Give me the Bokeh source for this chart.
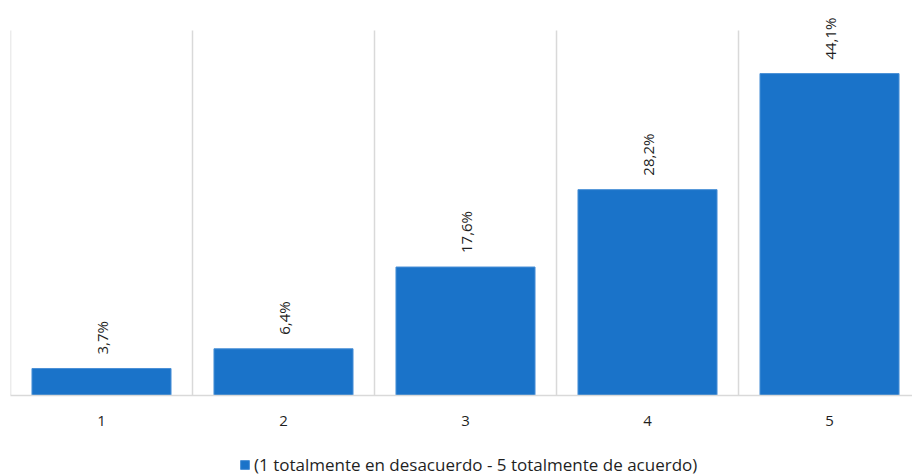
from bokeh.plotting import figure
from bokeh.models import ColumnDataSource, FixedTicker, Legend, LegendItem, Range1d
from bokeh.layouts import column
from bokeh.core.properties import value
from bokeh.embed import file_html
from bokeh.resources import INLINE
import math

categories = [1, 2, 3, 4, 5]
values = [3.7, 6.4, 17.6, 28.2, 44.1]
labels = ["3,7%", "6,4%", "17,6%", "28,2%", "44,1%"]
tick_labels = ["1", "2", "3", "4", "5"]
series_name = "(1 totalmente en desacuerdo - 5 totalmente de acuerdo)"
y_max = 50

FONT = "Open Sans"
BLUE = "#1a73c9"
GRID = "#d9d9d9"
TEXT = "#1f1f1f"

src = ColumnDataSource(dict(x=categories, top=values, label=labels))

# frame: 395 px tall, top 30 px above y_max for the rotated value labels
p = figure(width=912, height=446, output_backend="svg", toolbar_location=None,
           x_range=Range1d(0.5, 5.456), y_range=Range1d(0, y_max * 395 / 365),
           min_border_left=10, min_border_right=0, min_border_top=0,
           min_border_bottom=51)
p.outline_line_color = None
p.background_fill_color = "white"
p.border_fill_color = "white"

# category separators (vertical gridlines) up to the value-axis maximum
sep_x = [c - 0.5 for c in categories] + [categories[-1] + 0.5]
p.segment(x0=sep_x, x1=sep_x, y0=[0] * len(sep_x), y1=[y_max] * len(sep_x),
          line_color=GRID, line_width=1.5)

r = p.vbar(x="x", top="top", width=0.764, source=src, fill_color=BLUE,
           line_color="#4a90d6", line_width=1)

p.text(x="x", y="top", text="label", source=src, angle=math.pi / 2,
       text_align="left", text_baseline="middle", y_offset=-14,
       text_font=value(FONT), text_font_size="15px", text_color=TEXT)

p.yaxis.visible = False
p.ygrid.visible = False
p.xgrid.visible = False

p.xaxis.ticker = FixedTicker(ticks=categories)
p.xaxis.major_label_overrides = {c: t for c, t in zip(categories, tick_labels)}
p.xaxis.axis_line_color = GRID
p.xaxis.axis_line_width = 1.5
p.xaxis.major_tick_line_color = None
p.xaxis.minor_tick_line_color = None
p.xaxis.major_label_standoff = 14
p.xaxis.major_label_text_font = FONT
p.xaxis.major_label_text_font_size = "15px"
p.xaxis.major_label_text_color = TEXT

# legend strip (same series, hidden renderer only used for the legend swatch)
p2 = figure(width=912, height=30, output_backend="svg", toolbar_location=None,
            x_range=Range1d(0.5, 5.456), y_range=Range1d(0, y_max),
            min_border_left=0, min_border_right=0, min_border_top=0,
            min_border_bottom=0)
p2.outline_line_color = None
p2.axis.visible = False
p2.grid.visible = False
r2 = p2.vbar(x="x", top="top", width=0.764, source=src, fill_color=BLUE,
             line_color="#4a90d6", line_width=1, visible=False)

legend = Legend(items=[LegendItem(label=series_name, renderers=[r2])],
                orientation="horizontal", location=(229, 0),
                label_text_font=FONT, label_text_font_size="17px",
                label_text_color=TEXT, glyph_width=11, glyph_height=11,
                label_standoff=4, border_line_color=None,
                background_fill_alpha=0, margin=0, padding=2,
                inactive_fill_alpha=0)
p2.add_layout(legend)

layout = column(p, p2, spacing=0)
open("out.html", "w").write(file_html(layout, INLINE))
